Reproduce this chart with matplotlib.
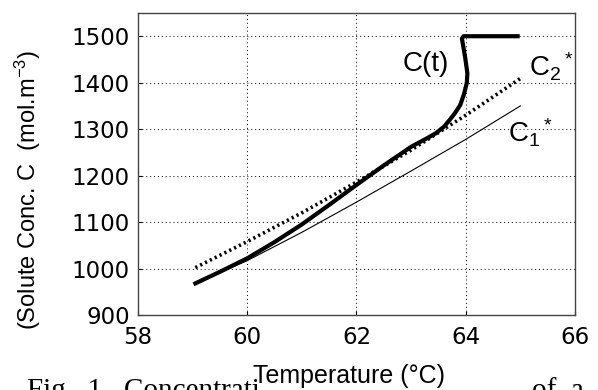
import numpy as np
import matplotlib
matplotlib.use("Agg")
import matplotlib.pyplot as plt

plt.rcParams['mathtext.fontset'] = 'custom'
plt.rcParams['mathtext.rm'] = 'Liberation Sans'
plt.rcParams['mathtext.it'] = 'Liberation Sans'

# concentration trajectory C(t) versus temperature
temp_c = [59.05, 59.5, 60.0, 60.5, 61.0, 61.5, 62.0, 62.5, 63.0, 63.3, 63.45,
          63.6, 63.7, 63.8, 63.9, 63.97, 64.02, 64.03, 63.99, 63.93, 63.96,
          64.5, 64.95]
conc_c = [968, 993, 1022, 1057, 1095, 1137, 1180, 1222, 1262, 1281, 1291,
          1305, 1319, 1334, 1352, 1376, 1400, 1420, 1454, 1495, 1500,
          1500, 1500]

# solubility curves C1* and C2*
temp_sol = [59.05, 60, 61, 62, 63, 64, 65]
conc_c1 = [968, 1017, 1078, 1143, 1210, 1278, 1350]
conc_c2 = [1002, 1058, 1120, 1186, 1255, 1330, 1409]

xticks = [58, 60, 62, 64, 66]
yticks = [900, 1000, 1100, 1200, 1300, 1400, 1500]

fig = plt.figure(figsize=(5.98, 3.9), dpi=100)
ax = fig.add_axes([0.2308, 0.1923, 0.7307, 0.7744])

ax.plot(temp_sol, conc_c1, color='black', lw=0.8)
ax.plot(temp_sol, conc_c2, color='black', lw=2.6, linestyle=(0, (0.6, 0.9)))
ax.plot(temp_c, conc_c, color='black', lw=3.0, solid_joinstyle='round')

ax.set_xlim(58, 66)
ax.set_ylim(900, 1550)
ax.set_xticks(xticks)
ax.set_yticks(yticks)
ax.tick_params(direction='in', length=3, labelsize=16.5, colors='black')
ax.tick_params(axis='x', pad=8)
ax.tick_params(axis='y', pad=6)
for lab in ax.get_xticklabels() + ax.get_yticklabels():
    lab.set_family('DejaVu Sans')
ax.grid(True, color='black', linestyle=(0, (1, 3)), lw=0.7)
for s in ax.spines.values():
    s.set_color('#444444')
    s.set_linewidth(1.0)

ax.text(63.7, 1440, 'C(t)', fontsize=20, family='Liberation Sans',
        ha='right', va='center')
ax.text(65.15, 1433, r'C$_2$$^*$', fontsize=20, family='Liberation Sans',
        ha='left', va='center')
ax.text(64.78, 1292, r'C$_1$$^*$', fontsize=20, family='Liberation Sans',
        ha='left', va='center')

# caption line underneath, partly hidden by the axis label
fig.text(27 / 598, 12 / 390, 'Fig.  1.  Concentrati', fontsize=21,
         family='Liberation Serif', ha='left', va='top')
fig.text(532 / 598, 12 / 390, 'of  a', fontsize=21,
         family='Liberation Serif', ha='left', va='top')
fig.patches.append(plt.Rectangle((250 / 598, 0), 278 / 598, 34 / 390,
                                 transform=fig.transFigure, fc='white',
                                 ec='none', zorder=2))
fig.text(349 / 598, 7 / 390, 'Temperature (°C)', fontsize=18,
         family='Liberation Sans', ha='center', va='baseline', zorder=3)

fig.text(28 / 598, 1 - 190 / 390, '(Solute Conc. C  (mol.m$^{-3}$)',
         fontsize=17, family='Liberation Sans', rotation=90,
         ha='center', va='center')

fig.savefig('out.png', dpi=100)
